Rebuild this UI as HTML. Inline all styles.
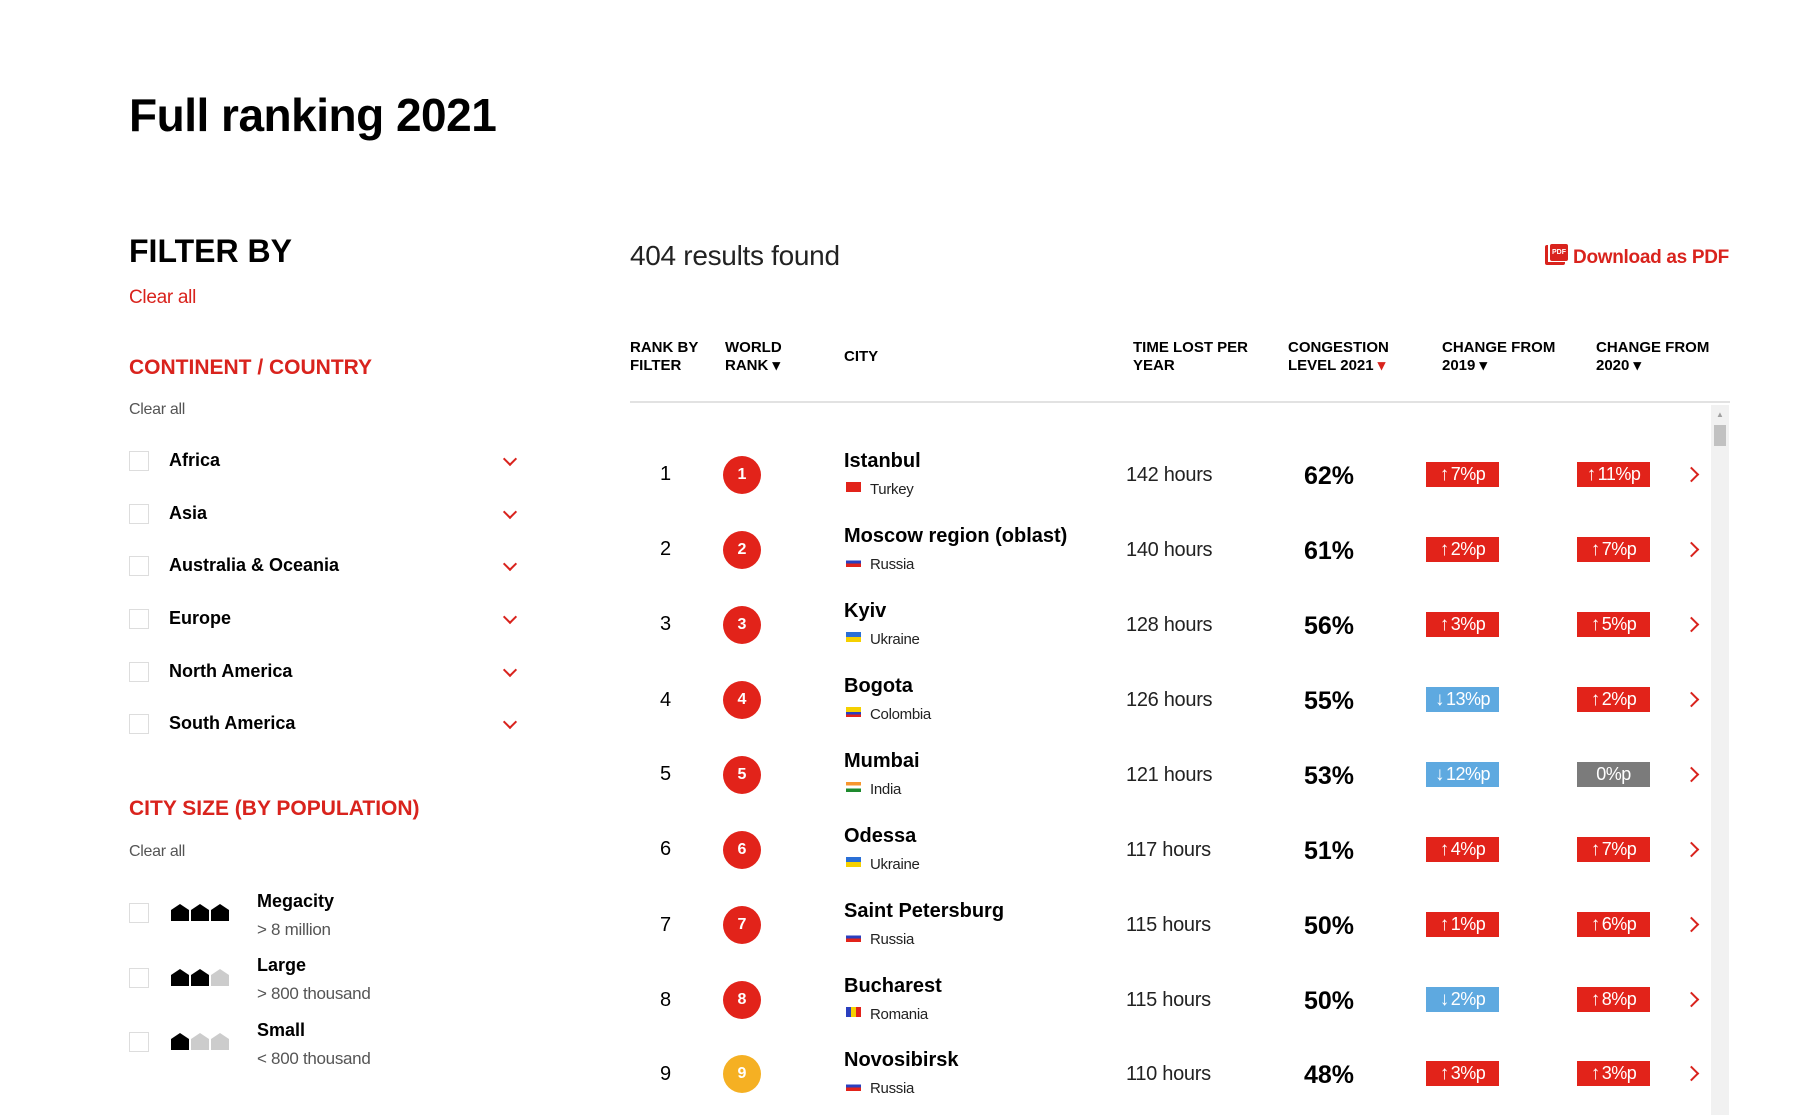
<!DOCTYPE html>
<html><head><meta charset="utf-8"><style>
*{margin:0;padding:0;box-sizing:border-box}
body{width:1800px;height:1115px;background:#fff;position:relative;overflow:hidden;font-family:"Liberation Sans",sans-serif;color:#000}
.a{position:absolute;white-space:nowrap}
.n{font-family:"Liberation Sans Narrow","Liberation Sans",sans-serif;letter-spacing:-0.3px}
.red{color:#d9231d}
.cb{position:absolute;width:20px;height:20px;border:1px solid #ddd;background:#fff}
.chev{position:absolute;width:10px;height:10px;border-right:2.5px solid #d9231d;border-bottom:2.5px solid #d9231d;transform:rotate(45deg)}
.lab{font-weight:bold;font-size:18px}
.hd{font-weight:bold;font-size:15px;line-height:18px}
.circ{position:absolute;width:38px;height:38px;border-radius:50%;background:#e2231a;color:#fff;font-weight:bold;font-size:16px;text-align:center;line-height:38px}
.badge{position:absolute;width:73px;height:25px;color:#fff;font-size:18px;text-align:center;line-height:25px;letter-spacing:-0.5px}
.badge b{font-size:19px;margin-right:2px}
.r{background:#e2231a}.b{background:#5ea9e0}.g{background:#7b7b7b}
.rc{position:absolute;width:11px;height:11px;border-right:2.5px solid #d9231d;border-top:2.5px solid #d9231d;transform:rotate(45deg)}
.house{position:absolute;width:18px;height:17px;clip-path:polygon(0 35%,50% 0,100% 35%,100% 100%,0 100%)}
</style></head><body>
<div class="a" style="left:129px;top:88px;font-size:46px;font-weight:bold;letter-spacing:-0.5px">Full ranking 2021</div>
<div class="a" style="left:129px;top:233px;font-size:32px;font-weight:bold">FILTER BY</div>
<div class="a n red" style="left:129px;top:287px;font-size:19px">Clear all</div>
<div class="a red" style="left:129px;top:356px;font-size:21px;font-weight:bold">CONTINENT / COUNTRY</div>
<div class="a n" style="left:129px;top:401px;font-size:16px;color:#555">Clear all</div>

<div class="cb" style="left:129px;top:451px"></div><div class="a lab" style="left:169px;top:450px">Africa</div><div class="chev" style="left:505px;top:454px"></div>
<div class="cb" style="left:129px;top:504px"></div><div class="a lab" style="left:169px;top:503px">Asia</div><div class="chev" style="left:505px;top:507px"></div>
<div class="cb" style="left:129px;top:556px"></div><div class="a lab" style="left:169px;top:555px">Australia &amp; Oceania</div><div class="chev" style="left:505px;top:559px"></div>
<div class="cb" style="left:129px;top:609px"></div><div class="a lab" style="left:169px;top:608px">Europe</div><div class="chev" style="left:505px;top:612px"></div>
<div class="cb" style="left:129px;top:662px"></div><div class="a lab" style="left:169px;top:661px">North America</div><div class="chev" style="left:505px;top:665px"></div>
<div class="cb" style="left:129px;top:714px"></div><div class="a lab" style="left:169px;top:713px">South America</div><div class="chev" style="left:505px;top:717px"></div>

<div class="a red" style="left:129px;top:797px;font-size:21px;font-weight:bold">CITY SIZE (BY POPULATION)</div>
<div class="a n" style="left:129px;top:843px;font-size:16px;color:#555">Clear all</div>

<div class="cb" style="left:129px;top:903px"></div>
<div class="house" style="left:171px;top:904px;background:#000"></div><div class="house" style="left:191px;top:904px;background:#000"></div><div class="house" style="left:211px;top:904px;background:#000"></div>
<div class="a lab" style="left:257px;top:891px">Megacity</div><div class="a n" style="left:257px;top:920px;font-size:17px;color:#555">&gt; 8 million</div>

<div class="cb" style="left:129px;top:968px"></div>
<div class="house" style="left:171px;top:969px;background:#000"></div><div class="house" style="left:191px;top:969px;background:#000"></div><div class="house" style="left:211px;top:969px;background:#ccc"></div>
<div class="a lab" style="left:257px;top:955px">Large</div><div class="a n" style="left:257px;top:984px;font-size:17px;color:#555">&gt; 800 thousand</div>

<div class="cb" style="left:129px;top:1032px"></div>
<div class="house" style="left:171px;top:1033px;background:#000"></div><div class="house" style="left:191px;top:1033px;background:#ccc"></div><div class="house" style="left:211px;top:1033px;background:#ccc"></div>
<div class="a lab" style="left:257px;top:1020px">Small</div><div class="a n" style="left:257px;top:1049px;font-size:17px;color:#555">&lt; 800 thousand</div>

<div class="a n" style="left:630px;top:240px;font-size:28px;color:#222">404 results found</div>
<div class="a" style="left:1545px;top:245px;width:20px;height:20px;border-left:3px solid #d9231d;border-bottom:3px solid #d9231d;border-radius:2px"></div>
<div class="a" style="left:1550px;top:244px;width:18px;height:17px;background:#d9231d;border-radius:2px;color:#fff;font-size:7px;font-weight:bold;text-align:center;line-height:17px">PDF</div>
<div class="a n red" style="right:71px;top:247px;font-size:19px;font-weight:bold">Download as PDF</div>

<div class="a hd" style="left:630px;top:339px">RANK BY<br>FILTER</div>
<div class="a hd" style="left:725px;top:339px">WORLD<br>RANK ▾</div>
<div class="a hd" style="left:844px;top:348px">CITY</div>
<div class="a hd" style="left:1133px;top:339px">TIME LOST PER<br>YEAR</div>
<div class="a hd" style="left:1288px;top:339px">CONGESTION<br>LEVEL 2021 <span class="red">▾</span></div>
<div class="a hd" style="left:1442px;top:339px">CHANGE FROM<br>2019 ▾</div>
<div class="a hd" style="left:1596px;top:339px">CHANGE FROM<br>2020 ▾</div>
<div class="a" style="left:630px;top:401px;width:1100px;height:2px;background:#e2e2e2"></div>
<div class="a" style="left:1711px;top:405px;width:18px;height:710px;background:#f1f1f1"></div>
<div class="a" style="left:1714px;top:425px;width:12px;height:21px;background:#c1c1c1"></div>
<div class="a" style="left:1716px;top:410px;font-size:8px;color:#a0a0a0">▲</div>

<div class="a n" style="left:660px;top:463px;font-size:20px">1</div><div class="circ" style="left:723px;top:456px">1</div>
<div class="a" style="left:844px;top:450px;font-size:20px;font-weight:bold">Istanbul</div>
<div class="a" style="left:846px;top:482px;width:15px;height:10px;background:#e2231a"></div><div class="a n" style="left:870px;top:481px;font-size:15px;color:#222">Turkey</div>
<div class="a n" style="left:1126px;top:464px;font-size:20px;color:#222">142 hours</div>
<div class="a" style="left:1289px;top:462px;width:80px;text-align:center;font-size:25px;font-weight:bold">62%</div>
<div class="badge r" style="left:1426px;top:462px"><b>↑</b>7%p</div><div class="badge r" style="left:1577px;top:462px"><b>↑</b>11%p</div><div class="rc" style="left:1686px;top:469px"></div>

<div class="a n" style="left:660px;top:538px;font-size:20px">2</div><div class="circ" style="left:723px;top:531px">2</div>
<div class="a" style="left:844px;top:525px;font-size:20px;font-weight:bold">Moscow region (oblast)</div>
<div class="a" style="left:846px;top:557px;width:15px;height:10px;background:linear-gradient(#fff 33%,#2a3fbf 33% 66%,#e2231a 66%)"></div><div class="a n" style="left:870px;top:556px;font-size:15px;color:#222">Russia</div>
<div class="a n" style="left:1126px;top:539px;font-size:20px;color:#222">140 hours</div>
<div class="a" style="left:1289px;top:537px;width:80px;text-align:center;font-size:25px;font-weight:bold">61%</div>
<div class="badge r" style="left:1426px;top:537px"><b>↑</b>2%p</div><div class="badge r" style="left:1577px;top:537px"><b>↑</b>7%p</div><div class="rc" style="left:1686px;top:544px"></div>

<div class="a n" style="left:660px;top:613px;font-size:20px">3</div><div class="circ" style="left:723px;top:606px">3</div>
<div class="a" style="left:844px;top:600px;font-size:20px;font-weight:bold">Kyiv</div>
<div class="a" style="left:846px;top:632px;width:15px;height:10px;background:linear-gradient(#2a6fd6 50%,#f5d000 50%)"></div><div class="a n" style="left:870px;top:631px;font-size:15px;color:#222">Ukraine</div>
<div class="a n" style="left:1126px;top:614px;font-size:20px;color:#222">128 hours</div>
<div class="a" style="left:1289px;top:612px;width:80px;text-align:center;font-size:25px;font-weight:bold">56%</div>
<div class="badge r" style="left:1426px;top:612px"><b>↑</b>3%p</div><div class="badge r" style="left:1577px;top:612px"><b>↑</b>5%p</div><div class="rc" style="left:1686px;top:619px"></div>

<div class="a n" style="left:660px;top:689px;font-size:20px">4</div><div class="circ" style="left:723px;top:681px">4</div>
<div class="a" style="left:844px;top:675px;font-size:20px;font-weight:bold">Bogota</div>
<div class="a" style="left:846px;top:707px;width:15px;height:10px;background:linear-gradient(#f5d000 50%,#2a3fbf 50% 75%,#e2231a 75%)"></div><div class="a n" style="left:870px;top:706px;font-size:15px;color:#222">Colombia</div>
<div class="a n" style="left:1126px;top:689px;font-size:20px;color:#222">126 hours</div>
<div class="a" style="left:1289px;top:687px;width:80px;text-align:center;font-size:25px;font-weight:bold">55%</div>
<div class="badge b" style="left:1426px;top:687px"><b>↓</b>13%p</div><div class="badge r" style="left:1577px;top:687px"><b>↑</b>2%p</div><div class="rc" style="left:1686px;top:694px"></div>

<div class="a n" style="left:660px;top:763px;font-size:20px">5</div><div class="circ" style="left:723px;top:756px">5</div>
<div class="a" style="left:844px;top:750px;font-size:20px;font-weight:bold">Mumbai</div>
<div class="a" style="left:846px;top:782px;width:15px;height:10px;background:linear-gradient(#f7962e 33%,#fff 33% 66%,#1e8a2e 66%)"></div><div class="a n" style="left:870px;top:781px;font-size:15px;color:#222">India</div>
<div class="a n" style="left:1126px;top:764px;font-size:20px;color:#222">121 hours</div>
<div class="a" style="left:1289px;top:762px;width:80px;text-align:center;font-size:25px;font-weight:bold">53%</div>
<div class="badge b" style="left:1426px;top:762px"><b>↓</b>12%p</div><div class="badge g" style="left:1577px;top:762px">0%p</div><div class="rc" style="left:1686px;top:769px"></div>

<div class="a n" style="left:660px;top:838px;font-size:20px">6</div><div class="circ" style="left:723px;top:831px">6</div>
<div class="a" style="left:844px;top:825px;font-size:20px;font-weight:bold">Odessa</div>
<div class="a" style="left:846px;top:857px;width:15px;height:10px;background:linear-gradient(#2a6fd6 50%,#f5d000 50%)"></div><div class="a n" style="left:870px;top:856px;font-size:15px;color:#222">Ukraine</div>
<div class="a n" style="left:1126px;top:839px;font-size:20px;color:#222">117 hours</div>
<div class="a" style="left:1289px;top:837px;width:80px;text-align:center;font-size:25px;font-weight:bold">51%</div>
<div class="badge r" style="left:1426px;top:837px"><b>↑</b>4%p</div><div class="badge r" style="left:1577px;top:837px"><b>↑</b>7%p</div><div class="rc" style="left:1686px;top:844px"></div>

<div class="a n" style="left:660px;top:914px;font-size:20px">7</div><div class="circ" style="left:723px;top:906px">7</div>
<div class="a" style="left:844px;top:900px;font-size:20px;font-weight:bold">Saint Petersburg</div>
<div class="a" style="left:846px;top:932px;width:15px;height:10px;background:linear-gradient(#fff 33%,#2a3fbf 33% 66%,#e2231a 66%)"></div><div class="a n" style="left:870px;top:931px;font-size:15px;color:#222">Russia</div>
<div class="a n" style="left:1126px;top:914px;font-size:20px;color:#222">115 hours</div>
<div class="a" style="left:1289px;top:912px;width:80px;text-align:center;font-size:25px;font-weight:bold">50%</div>
<div class="badge r" style="left:1426px;top:912px"><b>↑</b>1%p</div><div class="badge r" style="left:1577px;top:912px"><b>↑</b>6%p</div><div class="rc" style="left:1686px;top:919px"></div>

<div class="a n" style="left:660px;top:989px;font-size:20px">8</div><div class="circ" style="left:723px;top:981px">8</div>
<div class="a" style="left:844px;top:975px;font-size:20px;font-weight:bold">Bucharest</div>
<div class="a" style="left:846px;top:1007px;width:15px;height:10px;background:linear-gradient(90deg,#2a3fbf 33%,#f5d000 33% 66%,#e2231a 66%)"></div><div class="a n" style="left:870px;top:1006px;font-size:15px;color:#222">Romania</div>
<div class="a n" style="left:1126px;top:989px;font-size:20px;color:#222">115 hours</div>
<div class="a" style="left:1289px;top:987px;width:80px;text-align:center;font-size:25px;font-weight:bold">50%</div>
<div class="badge b" style="left:1426px;top:987px"><b>↓</b>2%p</div><div class="badge r" style="left:1577px;top:987px"><b>↑</b>8%p</div><div class="rc" style="left:1686px;top:994px"></div>

<div class="a n" style="left:660px;top:1063px;font-size:20px">9</div><div class="circ" style="left:723px;top:1055px;background:#f5b023">9</div>
<div class="a" style="left:844px;top:1049px;font-size:20px;font-weight:bold">Novosibirsk</div>
<div class="a" style="left:846px;top:1081px;width:15px;height:10px;background:linear-gradient(#fff 33%,#2a3fbf 33% 66%,#e2231a 66%)"></div><div class="a n" style="left:870px;top:1080px;font-size:15px;color:#222">Russia</div>
<div class="a n" style="left:1126px;top:1063px;font-size:20px;color:#222">110 hours</div>
<div class="a" style="left:1289px;top:1061px;width:80px;text-align:center;font-size:25px;font-weight:bold">48%</div>
<div class="badge r" style="left:1426px;top:1061px"><b>↑</b>3%p</div><div class="badge r" style="left:1577px;top:1061px"><b>↑</b>3%p</div><div class="rc" style="left:1686px;top:1068px"></div>
</body></html>
